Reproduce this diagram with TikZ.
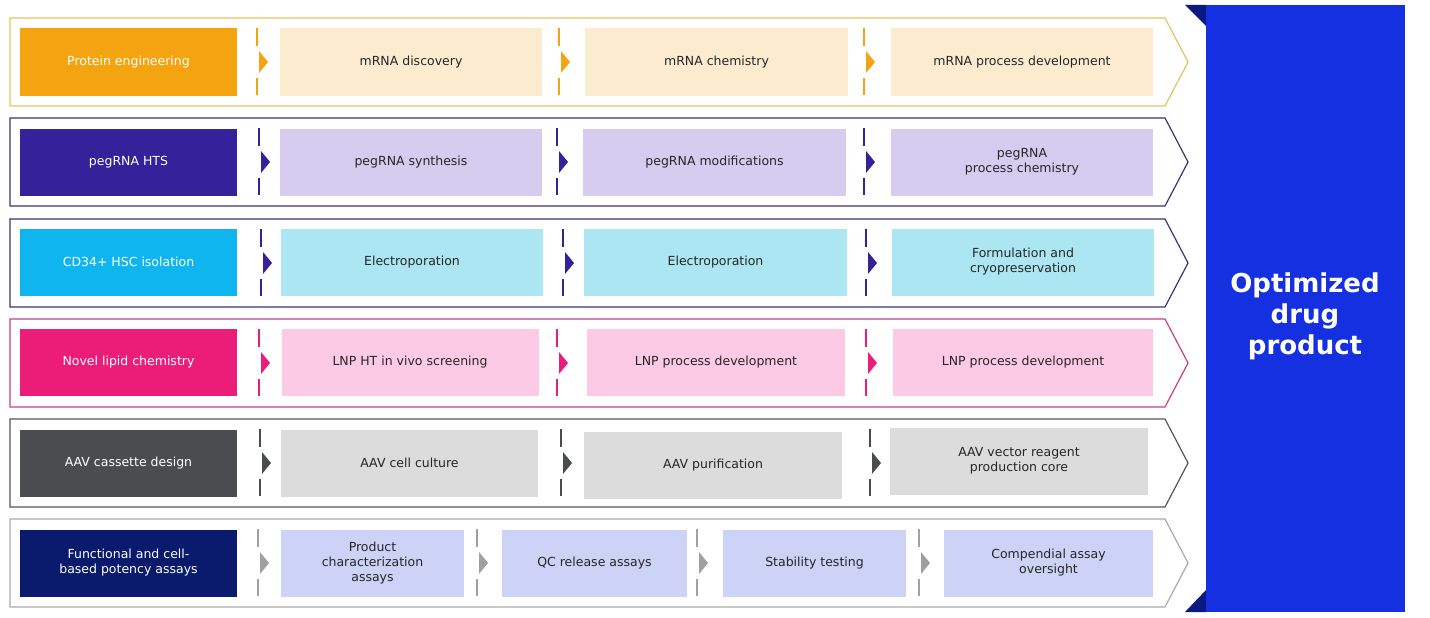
\documentclass[tikz,border=0pt]{standalone}
\usepackage{fontspec}
\setmainfont{DejaVu Sans}
\usetikzlibrary{positioning}
\definecolor{orgD}{HTML}{F4A311}\definecolor{orgL}{HTML}{FDEBD0}\definecolor{orgF}{HTML}{E6C15C}
\definecolor{purD}{HTML}{35219A}\definecolor{purL}{HTML}{D5CCF0}\definecolor{purF}{HTML}{3C3370}
\definecolor{cyaD}{HTML}{0FB5EE}\definecolor{cyaL}{HTML}{ACE6F2}
\definecolor{pinD}{HTML}{EC1C79}\definecolor{pinL}{HTML}{FCCAE5}\definecolor{pinF}{HTML}{C8407F}
\definecolor{gryD}{HTML}{4A4D4F}\definecolor{gryL}{HTML}{DCDCDC}\definecolor{gryF}{HTML}{555555}
\definecolor{navD}{HTML}{0A1B6E}\definecolor{navL}{HTML}{CDD2F7}\definecolor{navF}{HTML}{AAAAAA}\definecolor{navT}{HTML}{A0A0A0}
\definecolor{panel}{HTML}{1530E0}\definecolor{fold}{HTML}{0A1A80}
\tikzset{
  stage/.style={minimum height=67pt,inner sep=2pt,align=center,text=black!85,
    font=\fontsize{12.5}{15}\selectfont},
  lead/.style={stage,minimum width=217pt,text=white},
  % framing chevron of one row
  band/.style={line width=1.2pt,draw=#1},
}
% separator: dashes with a small triangle, x / top / colour
\newcommand\sep[3]{%
  \draw[#3,line width=1.2pt] (#1,#2+10) -- (#1,#2+28) (#1,#2+60) -- (#1,#2+77);
  \fill[#3] (#1+2,#2+33) -- (#1+11,#2+44) -- (#1+2,#2+55) -- cycle;}
% row frame, top / colour
\newcommand\frameband[2]{%
  \draw[band=#2] (10,#1) -- (1165,#1) -- (1188,#1+44) -- (1165,#1+88) -- (10,#1+88) -- cycle;}
\begin{document}
\begin{tikzpicture}[x=1pt,y=-1pt]
\useasboundingbox (0,0) rectangle (1430,618);
% final panel
\fill[fold] (1185,5) -- (1206,5) -- (1206,26) -- cycle;
\fill[fold] (1185,612) -- (1206,612) -- (1206,590) -- cycle;
\fill[panel] (1206,5) rectangle (1405,612);
\node[text=white,font=\bfseries\fontsize{26}{31}\selectfont,align=center] (out) at (1305,316)
  {Optimized\\drug\\product};
% row 1
\frameband{18}{orgF}
\node[lead,fill=orgD] (r1a) at (128.5,62) {Protein engineering};
\node[stage,fill=orgL,minimum width=262pt] (r1b) at (411,62) {mRNA discovery};
\node[stage,fill=orgL,minimum width=263pt] (r1c) at (716.5,62) {mRNA chemistry};
\node[stage,fill=orgL,minimum width=262pt] (r1d) at (1022,62) {mRNA process development};
\foreach \s in {257,559,864} {\sep{\s}{18}{orgD}}
% row 2
\frameband{118}{purF}
\node[lead,fill=purD] (r2a) at (128.5,162) {pegRNA HTS};
\node[stage,fill=purL,minimum width=262pt] (r2b) at (411,162) {pegRNA synthesis};
\node[stage,fill=purL,minimum width=263pt] (r2c) at (714.5,162) {pegRNA modifications};
\node[stage,fill=purL,minimum width=262pt] (r2d) at (1022,162) {pegRNA\\process chemistry};
\foreach \s in {259,557,864} {\sep{\s}{118}{purD}}
% row 3
\frameband{219}{purF}
\node[lead,fill=cyaD] (r3a) at (128.5,262) {CD34+ HSC isolation};
\node[stage,fill=cyaL,minimum width=262pt] (r3b) at (412,262) {Electroporation};
\node[stage,fill=cyaL,minimum width=263pt] (r3c) at (715.5,262) {Electroporation};
\node[stage,fill=cyaL,minimum width=262pt] (r3d) at (1023,262) {Formulation and\\cryopreservation};
\foreach \s in {261,563,866} {\sep{\s}{219}{purD}}
% row 4
\frameband{319}{pinF}
\node[lead,fill=pinD] (r4a) at (128.5,362) {Novel lipid chemistry};
\node[stage,fill=pinL,minimum width=257pt] (r4b) at (410,362) {LNP HT in vivo screening};
\node[stage,fill=pinL,minimum width=258pt] (r4c) at (716,362) {LNP process development};
\node[stage,fill=pinL,minimum width=260pt] (r4d) at (1023,362) {LNP process development};
\foreach \s in {259,557,866} {\sep{\s}{319}{pinD}}
% row 5
\frameband{419}{gryF}
\node[lead,fill=gryD] (r5a) at (128.5,463) {AAV cassette design};
\node[stage,fill=gryL,minimum width=257pt] (r5b) at (409.5,463) {AAV cell culture};
\node[stage,fill=gryL,minimum width=258pt] (r5c) at (713,465) {AAV purification};
\node[stage,fill=gryL,minimum width=258pt] (r5d) at (1019,461) {AAV vector reagent\\production core};
\foreach \s in {260,561,870} {\sep{\s}{419}{gryD}}
% row 6
\frameband{519}{navF}
\node[lead,fill=navD] (r6a) at (128.5,563) {Functional and cell-\\based potency assays};
\node[stage,fill=navL,minimum width=183pt] (r6b) at (372.5,563) {Product\\characterization\\assays};
\node[stage,fill=navL,minimum width=185pt] (r6c) at (594.5,563) {QC release assays};
\node[stage,fill=navL,minimum width=183pt] (r6d) at (814.5,563) {Stability testing};
\node[stage,fill=navL,minimum width=209pt] (r6e) at (1048.5,563) {Compendial assay\\oversight};
\foreach \s in {258,477,697,919} {\sep{\s}{519}{navT}}
\end{tikzpicture}
\end{document}
